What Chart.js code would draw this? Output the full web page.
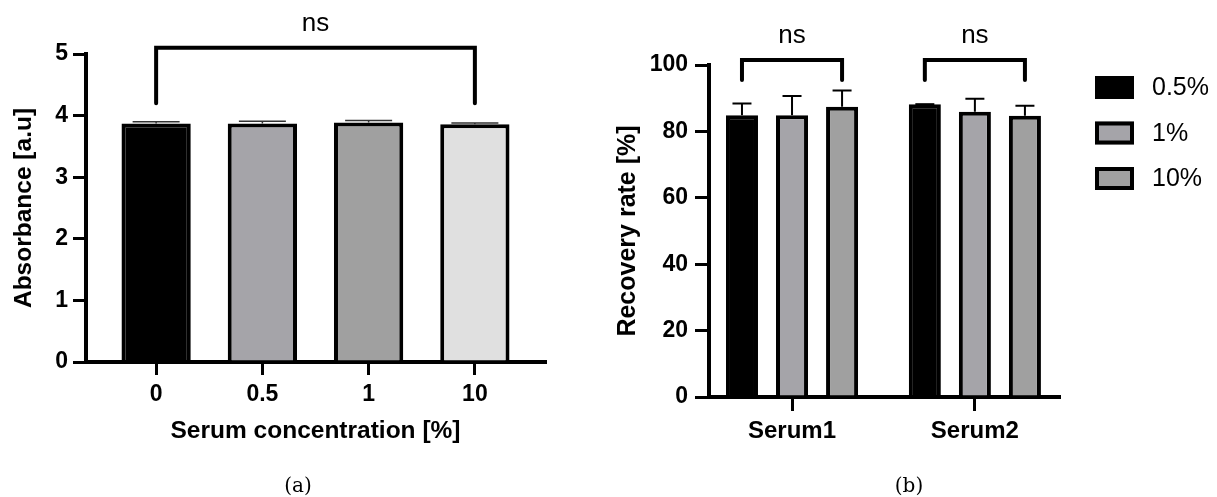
<!DOCTYPE html>
<html>
<head>
<meta charset="utf-8">
<script src="https://cdn.jsdelivr.net/npm/chart.js@4/dist/chart.umd.min.js"></script>
<style>
    body { margin: 0; background: #fff; }
    #wrap { position: relative; width: 1217px; height: 497px; overflow: hidden; }
    .box { position: absolute; top: 0; }
    .cap { position: absolute; font-family: 'DejaVu Serif', serif; font-size: 20px; line-height: 24px; transform: translateX(-50%); }
</style>
</head>
<body>
<div id="wrap">
    <div class="box" style="left:0"><canvas id="absorbanceChart" width="560" height="497"></canvas></div>
    <div class="box" style="left:600px"><canvas id="recoveryChart" width="617" height="497"></canvas></div>
    <div class="cap" style="left:298px; top:473px">(a)</div>
    <div class="cap" style="left:909px; top:473px">(b)</div>
</div>
<script>
// (a) absorbance per serum concentration
const concLabels = ['0', '0.5', '1', '10'];
const absorbance = [3.87, 3.87, 3.89, 3.86];
const absorbanceSd = [0.03, 0.04, 0.03, 0.02];
const concColors = ['#000000', '#a5a4a9', '#a0a0a0', '#e0e0e0'];

// (b) recovery rate per serum
const serumLabels = ['Serum1', 'Serum2'];
const seriesNames = ['0.5%', '1%', '10%'];
const recovery05 = [84.9, 88.2];
const recovery1 = [84.9, 85.9];
const recovery10 = [87.4, 84.7];
const recoverySd05 = [3.5, 0];
const recoverySd1 = [5.8, 3.9];
const recoverySd10 = [4.9, 3.0];
const seriesColors = ['#000000', '#a5a4a9', '#a0a0a0'];

Chart.defaults.font.family = "'Liberation Sans', Arial, sans-serif";
Chart.defaults.color = '#000';

function toPoints(values) {
    return values.map((v, i) => ({ x: i, y: v }));
}

const errorBars = {
    id: 'errorBars',
    afterDatasetsDraw(chart, args, opts) {
        const ctx = chart.ctx;
        const yScale = chart.scales.y;
        chart.data.datasets.forEach((ds, di) => {
            const meta = chart.getDatasetMeta(di);
            meta.data.forEach((bar, i) => {
                const top = yScale.getPixelForValue(ds.data[i].y + ds.errors[i]);
                ctx.save();
                ctx.strokeStyle = opts.color;
                ctx.lineWidth = opts.width;
                ctx.beginPath();
                ctx.moveTo(bar.x, bar.y);
                ctx.lineTo(bar.x, top);
                ctx.moveTo(bar.x - opts.cap / 2, top);
                ctx.lineTo(bar.x + opts.cap / 2, top);
                ctx.stroke();
                ctx.restore();
            });
        });
    }
};

const brackets = {
    id: 'brackets',
    afterDraw(chart, args, opts) {
        const ctx = chart.ctx;
        const yScale = chart.scales.y;
        opts.items.forEach(b => {
            const x1 = chart.getDatasetMeta(b.from[0]).data[b.from[1]].x;
            const x2 = chart.getDatasetMeta(b.to[0]).data[b.to[1]].x;
            const yTop = yScale.getPixelForValue(opts.top);
            const yBottom = yScale.getPixelForValue(opts.bottom);
            ctx.save();
            ctx.strokeStyle = '#000';
            ctx.lineWidth = 4;
            ctx.lineCap = 'round';
            ctx.lineJoin = 'miter';
            ctx.beginPath();
            ctx.moveTo(x1, yBottom);
            ctx.lineTo(x1, yTop);
            ctx.lineTo(x2, yTop);
            ctx.lineTo(x2, yBottom);
            ctx.stroke();
            ctx.fillStyle = '#000';
            ctx.font = "26px 'Liberation Sans', Arial, sans-serif";
            ctx.textAlign = 'center';
            ctx.textBaseline = 'alphabetic';
            ctx.fillText(b.text, (x1 + x2) / 2, yTop - 17);
            ctx.restore();
        });
    }
};

const sideLegend = {
    id: 'sideLegend',
    afterDraw(chart, args, opts) {
        const ctx = chart.ctx;
        chart.data.datasets.forEach((ds, i) => {
            const cy = opts.y + i * opts.gap;
            ctx.save();
            ctx.fillStyle = ds.backgroundColor;
            ctx.fillRect(opts.x, cy - 11.5, 39, 23);
            ctx.strokeStyle = '#000';
            ctx.lineWidth = 4;
            ctx.strokeRect(opts.x + 2, cy - 9.5, 35, 19);
            ctx.fillStyle = '#000';
            ctx.font = "25px 'Liberation Sans', Arial, sans-serif";
            ctx.textAlign = 'left';
            ctx.textBaseline = 'middle';
            ctx.fillText(ds.label, opts.x + 57, cy + 1);
            ctx.restore();
        });
    }
};

new Chart(document.getElementById('absorbanceChart').getContext('2d'), {
    type: 'bar',
    data: {
        datasets: [{
            data: toPoints(absorbance),
            errors: absorbanceSd,
            backgroundColor: concColors,
            borderColor: '#000',
            borderWidth: 4,
            barPercentage: 0.652,
            categoryPercentage: 1
        }]
    },
    options: {
        responsive: false,
        animation: false,
        layout: { padding: { top: 54, right: 15, left: 0, bottom: 0 } },
        plugins: {
            legend: { display: false },
            tooltip: { enabled: false },
            errorBars: { color: '#333', width: 1.5, cap: 47 },
            brackets: { top: 5.1, bottom: 4.2, items: [{ from: [0, 0], to: [0, 3], text: 'ns' }] }
        },
        scales: {
            x: {
                type: 'linear',
                min: -0.66,
                max: 3.66,
                offset: false,
                z: 1,
                afterFit: s => { s.height = 135; },
                afterBuildTicks: s => { s.ticks = concLabels.map((l, i) => ({ value: i })); },
                grid: { offset: false, drawOnChartArea: false, color: '#000', lineWidth: 3, tickLength: 13 },
                border: { color: '#000', width: 4 },
                ticks: { callback: v => concLabels[v], padding: 6, maxRotation: 0, font: { size: 23, weight: 'bold' } },
                title: { display: true, text: 'Serum concentration [%]', padding: { top: 0, bottom: 50.6 }, font: { size: 24.5, weight: 'bold' } }
            },
            y: {
                min: 0,
                max: 5,
                z: 1,
                afterFit: s => { s.width = 86; },
                grid: { drawOnChartArea: false, color: '#000', lineWidth: 3, tickLength: 13 },
                border: { color: '#000', width: 4 },
                ticks: { stepSize: 1, padding: 5, font: { size: 23, weight: 'bold' } },
                title: { display: true, text: 'Absorbance [a.u]', padding: { top: 9.3, bottom: 0 }, font: { size: 24.5, weight: 'bold' } }
            }
        }
    },
    plugins: [errorBars, brackets]
});

const recoverySeries = [recovery05, recovery1, recovery10];
const recoverySds = [recoverySd05, recoverySd1, recoverySd10];

new Chart(document.getElementById('recoveryChart').getContext('2d'), {
    type: 'bar',
    data: {
        datasets: seriesNames.map((name, i) => ({
            label: name,
            data: toPoints(recoverySeries[i]),
            errors: recoverySds[i],
            backgroundColor: seriesColors[i],
            borderColor: '#000',
            borderWidth: 4,
            barPercentage: 0.64,
            categoryPercentage: 0.821
        }))
    },
    options: {
        responsive: false,
        animation: false,
        layout: { padding: { top: 65, right: 158, left: 0, bottom: 0 } },
        plugins: {
            legend: { display: false },
            tooltip: { enabled: false },
            errorBars: { color: '#000', width: 2, cap: 19 },
            brackets: {
                top: 101.5, bottom: 95.5,
                items: [
                    { from: [0, 0], to: [2, 0], text: 'ns' },
                    { from: [0, 1], to: [2, 1], text: 'ns' }
                ]
            },
            sideLegend: { x: 495, y: 87.5, gap: 45.5 }
        },
        scales: {
            x: {
                type: 'linear',
                min: -0.454,
                max: 1.46,
                offset: false,
                z: 1,
                afterFit: s => { s.height = 100; },
                afterBuildTicks: s => { s.ticks = serumLabels.map((l, i) => ({ value: i })); },
                grid: { offset: false, drawOnChartArea: false, color: '#000', lineWidth: 3, tickLength: 14 },
                border: { color: '#000', width: 4 },
                ticks: { callback: v => serumLabels[v], padding: 5.6, maxRotation: 0, font: { size: 24, weight: 'bold' } },
                title: { display: false }
            },
            y: {
                min: 0,
                max: 100,
                z: 1,
                afterFit: s => { s.width = 109; },
                grid: { drawOnChartArea: false, color: '#000', lineWidth: 3, tickLength: 14 },
                border: { color: '#000', width: 4 },
                ticks: { stepSize: 20, padding: 7, font: { size: 23, weight: 'bold' } },
                title: { display: true, text: 'Recovery rate [%]', padding: { top: 13, bottom: 0 }, font: { size: 25, weight: 'bold' } }
            }
        }
    },
    plugins: [errorBars, brackets, sideLegend]
});
</script>
</body>
</html>
